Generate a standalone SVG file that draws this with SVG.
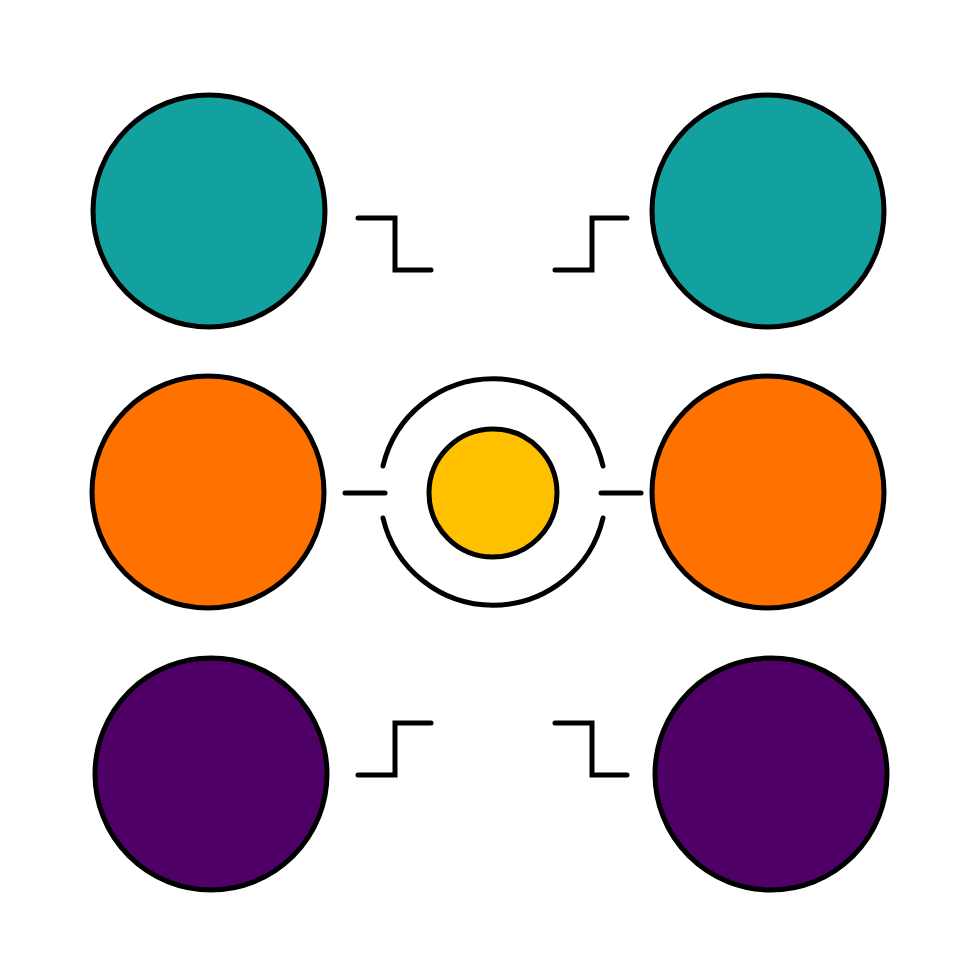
<svg xmlns="http://www.w3.org/2000/svg" width="980" height="980" viewBox="0 0 980 980">
<style>
.n{stroke:#000;stroke-width:5}
.teal{fill:#13A19F}
.orange{fill:#FF7200}
.purple{fill:#4E0066}
.yellow{fill:#FFC000}
.c{fill:none;stroke:#000;stroke-width:5;stroke-linecap:round;stroke-linejoin:miter}
</style>
<rect width="980" height="980" fill="#fff"/>
<g id="tl"><circle class="n teal" cx="209" cy="211" r="116"/></g>
<g id="tr"><circle class="n teal" cx="768" cy="211" r="116"/></g>
<g id="ml"><circle class="n orange" cx="208" cy="492" r="116"/></g>
<g id="mr"><circle class="n orange" cx="768" cy="492" r="116"/></g>
<g id="bl"><circle class="n purple" cx="211" cy="774" r="116"/></g>
<g id="br"><circle class="n purple" cx="771" cy="774" r="116"/></g>
<g id="center">
<path class="c" d="M 383 466 A 113 113 0 0 1 603 466"/>
<path class="c" d="M 383 518 A 113 113 0 0 0 603 518"/>
<circle class="n yellow" cx="493" cy="493" r="64"/>
</g>
<g id="connectors">
<path class="c" d="M 345 493 H 385"/>
<path class="c" d="M 601 493 H 641"/>
<path class="c" d="M 358 218 H 395 V 270 H 431"/>
<path class="c" d="M 555 270 H 592 V 218 H 627"/>
<path class="c" d="M 358 775 H 395 V 723 H 431"/>
<path class="c" d="M 555 723 H 592 V 775 H 627"/>
</g>
</svg>
